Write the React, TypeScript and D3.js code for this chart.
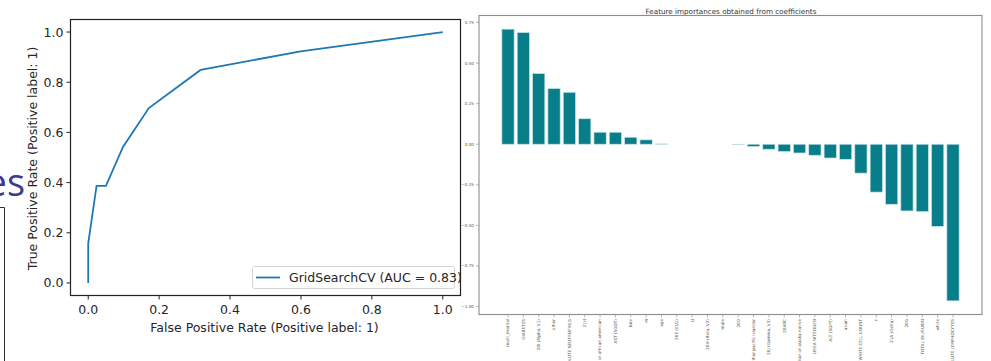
import React from "react";
import * as d3 from "d3";

// ROC curve data
const rocFpr = [0, 0, 0.0235, 0.05, 0.098, 0.171, 0.317, 0.599, 1.0];
const rocTpr = [0, 0.158, 0.387, 0.387, 0.542, 0.697, 0.849, 0.923, 1.0];
const rocTicks = [0, 0.2, 0.4, 0.6, 0.8, 1.0];
const rocLegend = "GridSearchCV (AUC = 0.83)";

// Feature importances
const features = [
  "multi_marital", "DIABETES", "20I (Alpha, V1)", "other", "ABSOLUTE NEUTROPHILS",
  "21H", "black or african american", "AST (SGOT)", "bmi", "M",
  "age", "20E (EU1)", "U", "20H (Beta, V2)", "male",
  "20D", "native hawaiian or other pacific islander", "20J (Gamma, V3)", "20ABC", "american indian or alaska native",
  "UREA NITROGEN", "ALT (SGPT)", "asian", "WHITE CELL COUNT", "F",
  "21A (Delta)", "20G", "TOTAL BILIRUBIN", "white", "ABSOLUTE LYMPHOCYTES",
];
const coefs = [
  0.709, 0.688, 0.436, 0.343, 0.32,
  0.157, 0.074, 0.074, 0.043, 0.027,
  0.002, 0, 0, 0, 0,
  -0.002, -0.014, -0.031, -0.045, -0.054,
  -0.068, -0.085, -0.093, -0.178, -0.295,
  -0.37, -0.411, -0.415, -0.506, -0.965,
];
const coefTicks = [0.75, 0.5, 0.25, 0, -0.25, -0.5, -0.75, -1.0];

const FONT = "DejaVu Sans, sans-serif";

function RocChart() {
  const L = 70.5, R = 460.5, T = 19.5, B = 295.5;
  const x = d3.scaleLinear().domain([-0.05, 1.05]).range([L, R]);
  const y = d3.scaleLinear().domain([-0.05, 1.05]).range([B, T]);
  const pts = rocFpr.map((f, i) => [f, rocTpr[i]] as [number, number]);
  const line = d3.line<[number, number]>().x((d) => x(d[0])).y((d) => y(d[1]));
  const fmt = d3.format(".1f");
  return (
    <g>
      <path d={line(pts) || ""} fill="none" stroke="#1f77b4" strokeWidth={1.8} />
      <rect x={L} y={T} width={R - L} height={B - T} fill="none" stroke="#222" strokeWidth={1.2} />
      {rocTicks.map((t) => (
        <g key={"x" + t}>
          <line x1={x(t)} x2={x(t)} y1={B} y2={B + 4} stroke="#222" />
          <text x={x(t)} y={B + 18} textAnchor="middle" fontSize={12.5} fill="#262626" fontFamily={FONT}>
            {fmt(t)}
          </text>
        </g>
      ))}
      {rocTicks.map((t) => (
        <g key={"y" + t}>
          <line x1={L - 4} x2={L} y1={y(t)} y2={y(t)} stroke="#222" />
          <text x={L - 7} y={y(t) + 4.5} textAnchor="end" fontSize={12.5} fill="#262626" fontFamily={FONT}>
            {fmt(t)}
          </text>
        </g>
      ))}
      <text x={(L + R) / 2 - 1} y={332} textAnchor="middle" fontSize={12.5} fill="#262626" fontFamily={FONT}>
        False Positive Rate (Positive label: 1)
      </text>
      <text
        transform={`translate(36.5,${(T + B) / 2 + 1}) rotate(-90)`}
        textAnchor="middle"
        fontSize={12.5}
        fill="#262626"
        fontFamily={FONT}
      >
        True Positive Rate (Positive label: 1)
      </text>
      <rect x={252.5} y={266.5} width={202} height={22} rx={2} fill="#fff" fillOpacity={0.8} stroke="#d5d5d5" />
      <line x1={256} x2={280} y1={277.5} y2={277.5} stroke="#1f77b4" strokeWidth={1.8} />
      <text x={289} y={282} fontSize={12.5} fill="#262626" fontFamily={FONT}>
        {rocLegend}
      </text>
    </g>
  );
}

function CoefChart() {
  const L = 479, R = 982, T = 15.5, B = 314.5;
  const n = features.length;
  const x = d3.scaleLinear().domain([-1.89, n - 1 + 1.89]).range([L, R]);
  const y = d3.scaleLinear().domain([-1.049, 0.793]).range([B, T]);
  const bw = x(0.8) - x(0);
  const fmt = d3.format(".2f");
  return (
    <g>
      <text x={731} y={14} textAnchor="middle" fontSize={7.2} fill="#333" fontFamily={FONT}>
        Feature importances obtained from coefficients
      </text>
      {coefs.map((c, i) => {
        if (c === 0) return null;
        const y0 = y(Math.max(0, c));
        const h = Math.abs(y(c) - y(0));
        return (
          <rect
            key={i}
            x={x(i) - bw / 2}
            y={y0}
            width={bw}
            height={h}
            fill="#087e8b"
            stroke="#c8e4e7"
            strokeWidth={0.7}
          />
        );
      })}
      <rect x={L} y={T} width={R - L} height={B - T} fill="none" stroke="#8c8c8c" strokeWidth={1.1} />
      {coefTicks.map((t) => (
        <g key={"y" + t}>
          <line x1={L - 3} x2={L} y1={y(t)} y2={y(t)} stroke="#888" strokeWidth={0.6} />
          <text x={L - 5} y={y(t) + 1.5} textAnchor="end" fontSize={4.2} fill="#555" fontFamily={FONT}>
            {fmt(t).replace("-", "\u2212")}
          </text>
        </g>
      ))}
      {features.map((f, i) => (
        <g key={"x" + i}>
          <line x1={x(i)} x2={x(i)} y1={B} y2={B + 3} stroke="#888" strokeWidth={0.6} />
          <text
            transform={`translate(${x(i) + 1.4},${B + 4.5}) rotate(-90)`}
            textAnchor="end"
            fontSize={4.2}
            fill="#555"
            fontFamily={FONT}
          >
            {f}
          </text>
        </g>
      ))}
    </g>
  );
}

export default function App() {
  return (
    <svg
      width={991}
      height={361}
      style={{ position: "absolute", left: 0, top: 0, background: "#fff" }}
    >
      <rect x={0} y={0} width={991} height={361} fill="#fff" />
      <text
        x={25}
        y={196}
        textAnchor="end"
        fontSize={38}
        fill="#3b3b8f"
        fontFamily="Open Sans, sans-serif"
        fontWeight={400}
      >
        es
      </text>
      <path d="M0,207.5 H4.5 V361" fill="none" stroke="#333" strokeWidth={1} />
      <RocChart />
      <CoefChart />
    </svg>
  );
}
